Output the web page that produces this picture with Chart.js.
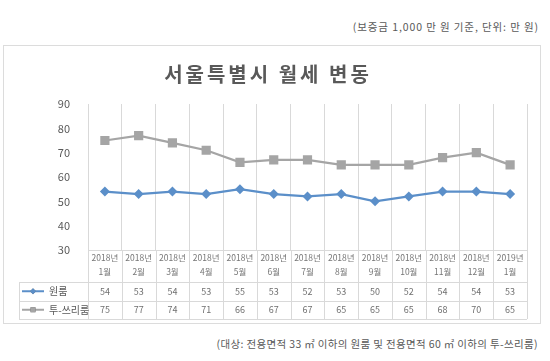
<!DOCTYPE html>
<html>
<head>
<meta charset="utf-8">
<script src="https://cdn.jsdelivr.net/npm/chart.js@4/dist/chart.umd.min.js"></script>
<style>
  body { margin: 0; background: #fff; font-family: "Noto Sans CJK KR", sans-serif; }
  .note { position: absolute; font-size: 10.5px; color: #595959; white-space: nowrap; }
  #top-note { right: 11px; top: 19px; letter-spacing: 0.9px; }
  #foot-note { right: 12px; top: 336px; letter-spacing: 0.35px; }
  #box { position: absolute; left: 3px; top: 45px; width: 538px; height: 279px;
         border: 1px solid #dcdcdc; box-sizing: border-box; }
</style>
</head>
<body>
<div class="note" id="top-note">(보증금 1,000 만 원 기준, 단위: 만 원)</div>
<div id="box"><canvas id="rentChart"></canvas></div>
<div class="note" id="foot-note">(대상: 전용면적 33 ㎡ 이하의 원룸 및 전용면적 60 ㎡ 이하의 투-쓰리룸)</div>
<script>
"use strict";

// data
const MONTHS = [
    ["2018년", "1월"], ["2018년", "2월"], ["2018년", "3월"], ["2018년", "4월"],
    ["2018년", "5월"], ["2018년", "6월"], ["2018년", "7월"], ["2018년", "8월"],
    ["2018년", "9월"], ["2018년", "10월"], ["2018년", "11월"], ["2018년", "12월"],
    ["2019년", "1월"]
];
const ONE_ROOM = [54, 53, 54, 53, 55, 53, 52, 53, 50, 52, 54, 54, 53];
const TWO_THREE_ROOM = [75, 77, 74, 71, 66, 67, 67, 65, 65, 65, 68, 70, 65];
const SERIES_NAMES = ["원룸", "투-쓰리룸"];
const TITLE = "서울특별시 월세 변동";
const Y_MIN = 30, Y_MAX = 90, Y_STEP = 10;

const GRID = "#d9d9d9";
const TEXT = "#595959";
const FONT = "'Noto Sans CJK KR', sans-serif";

// spaced-out title like the Excel one
const spacedTitle = {
    id: "spacedTitle",
    afterDraw(chart) {
        const ctx = chart.ctx;
        ctx.save();
        ctx.font = "bold 20px " + FONT;
        ctx.letterSpacing = "3px";
        ctx.fillStyle = TEXT;
        ctx.textAlign = "center";
        ctx.textBaseline = "middle";
        ctx.fillText(TITLE, 264, 28);
        ctx.restore();
    }
};

// data table under the x axis (Excel style)
const dataTable = {
    id: "dataTable",
    afterDraw(chart) {
        const ctx = chart.ctx;
        const area = chart.chartArea;
        const n = MONTHS.length;
        const colW = (area.right - area.left) / n;
        const r0 = area.bottom + 32;
        const rowH = 18.5;
        const tableLeft = 15;
        const bottom = r0 + rowH * 2;

        ctx.save();
        ctx.strokeStyle = GRID;
        ctx.lineWidth = 1;
        ctx.beginPath();
        for (let i = 0; i <= n; i++) {
            const x = Math.round(area.left + i * colW) + 0.5;
            ctx.moveTo(x, area.bottom);
            ctx.lineTo(x, bottom);
        }
        for (let r = 0; r <= 2; r++) {
            const y = Math.round(r0 + r * rowH) + 0.5;
            ctx.moveTo(tableLeft, y);
            ctx.lineTo(area.right, y);
        }
        ctx.moveTo(tableLeft + 0.5, r0);
        ctx.lineTo(tableLeft + 0.5, bottom);
        ctx.stroke();

        const rows = [ONE_ROOM, TWO_THREE_ROOM];
        ctx.font = "9px " + FONT;
        ctx.fillStyle = "#6f6f6f";
        ctx.textAlign = "center";
        ctx.textBaseline = "middle";
        rows.forEach(function(vals, r) {
            const y = r0 + rowH * r + rowH / 2;
            vals.forEach(function(v, i) {
                ctx.fillText(String(v), chart.scales.x.getPixelForValue(i), y);
            });
        });

        // legend keys in the first column
        chart.data.datasets.forEach(function(ds, r) {
            const y = r0 + rowH * r + rowH / 2;
            ctx.strokeStyle = ds.borderColor;
            ctx.lineWidth = 2;
            ctx.beginPath();
            ctx.moveTo(18, y);
            ctx.lineTo(40, y);
            ctx.stroke();
            Chart.helpers.drawPoint(ctx, {
                pointStyle: ds.pointStyle,
                radius: r === 0 ? 3 : 3.5,
                borderWidth: 0
            }, 29, y);
            ctx.fillStyle = ds.borderColor;
            ctx.fill();
            ctx.fillStyle = TEXT;
            ctx.textAlign = "left";
            ctx.font = "10px " + FONT;
            ctx.fillText(SERIES_NAMES[r], 45, y);
        });
        ctx.restore();
    }
};

let ctx_rent = document.getElementById("rentChart").getContext("2d");

let rentChart = new Chart(ctx_rent, {
    type: "line",
    data: {
        labels: MONTHS,
        datasets: [
            {
                label: SERIES_NAMES[0],
                data: ONE_ROOM,
                borderColor: "#5b8fc9",
                backgroundColor: "#5b8fc9",
                borderWidth: 2.25,
                pointStyle: "rectRot",
                pointRadius: 5,
                pointBorderWidth: 0,
                tension: 0
            },
            {
                label: SERIES_NAMES[1],
                data: TWO_THREE_ROOM,
                borderColor: "#a5a5a5",
                backgroundColor: "#a5a5a5",
                borderWidth: 2.25,
                pointStyle: "rect",
                pointRadius: 6.5,
                pointBorderWidth: 0,
                tension: 0
            }
        ]
    },
    options: {
        responsive: true,
        maintainAspectRatio: false,
        animation: false,
        layout: {
            padding: { left: 44, right: 13, top: 58, bottom: 41 }
        },
        plugins: {
            legend: { display: false },
            tooltip: { enabled: false },
            title: { display: false }
        },
        scales: {
            x: {
                offset: true,
                grid: { offset: true, color: GRID, drawTicks: false },
                border: { color: GRID },
                ticks: {
                    color: "#767676",
                    font: { family: FONT, size: 8.5, lineHeight: 1.65 },
                    padding: 1,
                    maxRotation: 0,
                    autoSkip: false
                },
                afterFit: function(scale) { scale.height = 32; }
            },
            y: {
                min: Y_MIN,
                max: Y_MAX,
                grid: { display: false },
                border: { display: false },
                ticks: {
                    stepSize: Y_STEP,
                    color: TEXT,
                    font: { family: FONT, size: 11 },
                    padding: 10
                },
                afterFit: function(scale) { scale.width = 40; }
            }
        }
    },
    plugins: [spacedTitle, dataTable]
});
</script>
</body>
</html>
